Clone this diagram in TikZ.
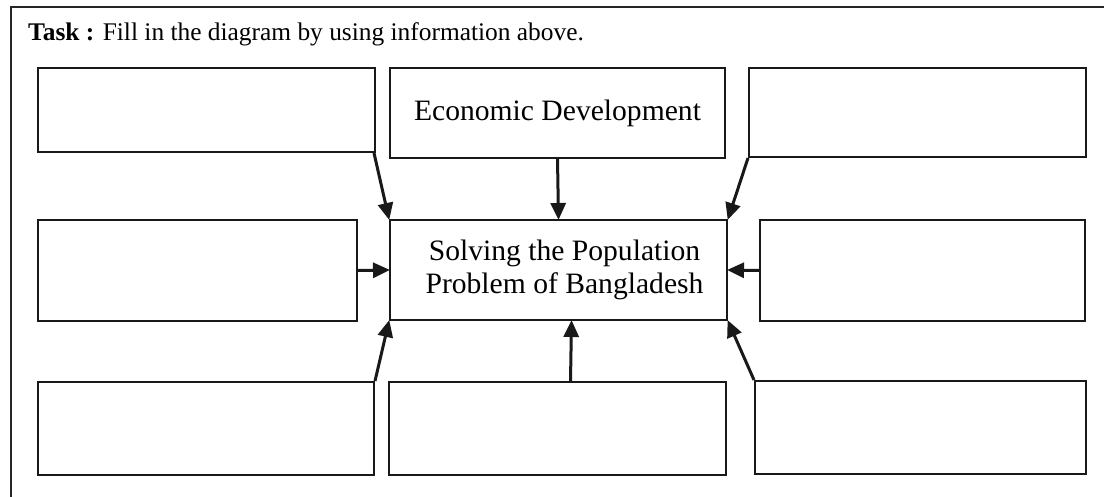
\documentclass[tikz,border=0pt]{standalone}
\usepackage{fontspec}
\setmainfont{Liberation Serif}
\usetikzlibrary{arrows.meta}
\tikzset{
  box/.style={draw=black!90, line width=2pt, inner sep=0pt, align=center,
    font=\fontsize{29.6}{33}\selectfont},
  conn/.style={draw=black!90, line width=3pt, -{Triangle[length=17pt,width=15pt]}, shorten >=-1pt},
  frame/.style={draw=black!85, line width=1.5pt}
}
\newcommand{\bx}[6]{\node[box, minimum width=#4-#2, minimum height=#5-#3] (#1) at ({(#2+#4)/2},{(#3+#5)/2}) {#6};}
\begin{document}
\begin{tikzpicture}[x=1pt,y=-1pt]
\useasboundingbox (0,0) rectangle (1104,497);
\draw[frame] (11,497) -- (11,7) -- (1104,7);
\node[anchor=base west, inner sep=0pt, font=\fontsize{25.4}{30}\selectfont] (task) at (28,41) {\textbf{Task :} Fill in the diagram by using information above.};
\bx{tl}{38}{68}{375}{152}{}
\bx{tm}{390}{68}{725}{158}{\raisebox{-3pt}{Economic Development}}
\bx{tr}{749}{68}{1086}{157}{}
\bx{ml}{38}{220}{357}{321}{}
\bx{c}{390}{220}{727}{320}{\hspace*{12pt}\raisebox{-2pt}{\begin{tabular}{@{}c@{}}Solving the Population\\Problem of Bangladesh\end{tabular}}}
\bx{mr}{760}{220}{1085}{321}{}
\bx{bl}{38}{382}{374}{475}{}
\bx{bm}{389}{382}{726}{475}{}
\bx{br}{755}{381}{1086}{474}{}
\draw[conn] ([xshift=-2pt]tl.south east) -- (c.north west);
\draw[conn] (tm.south) -- (c.north);
\draw[conn] (tr.south west) -- (c.north east);
\draw[conn] (ml.east) -- (c.west);
\draw[conn] (mr.west) -- (c.east);
\draw[conn] (bl.north east) -- (c.south west);
\draw[conn] ([xshift=13pt]bm.north) -- ([xshift=13pt]c.south);
\draw[conn] (br.north west) -- (c.south east);
\end{tikzpicture}
\end{document}
